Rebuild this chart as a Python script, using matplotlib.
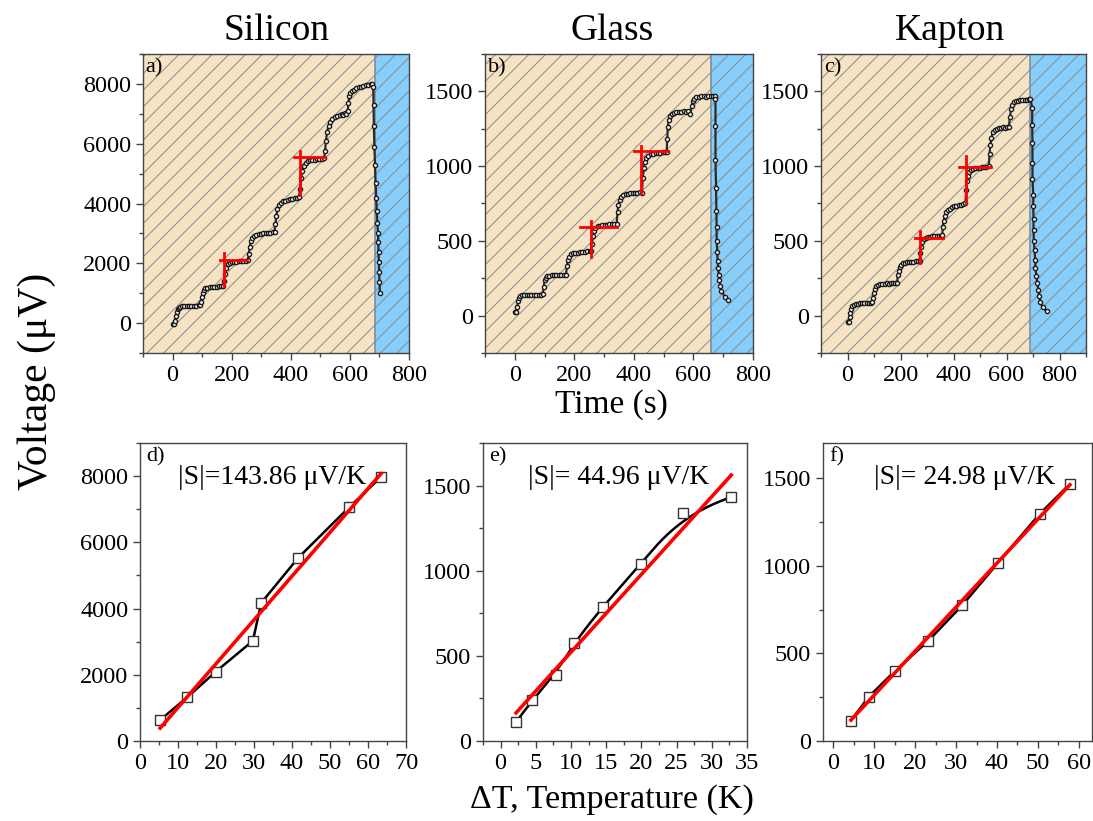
import numpy as np
import matplotlib
matplotlib.use("Agg")
import matplotlib.pyplot as plt
from matplotlib.ticker import MultipleLocator

plt.rcParams['font.family'] = ['Liberation Serif', 'DejaVu Serif']
plt.rcParams['mathtext.fontset'] = 'stix'
plt.rcParams['hatch.linewidth'] = 0.7

# ---------------- DATA ----------------
materials = ["Silicon", "Glass", "Kapton"]
top_labels = ["a)", "b)", "c)"]
bottom_labels = ["d)", "e)", "f)"]
seebeck_texts = ["|S|=143.86 \u03bcV/K", "|S|= 44.96 \u03bcV/K", "|S|= 24.98 \u03bcV/K"]

# Silicon time series (s, uV)
si_time = [0, 4, 8, 11, 14, 17, 21, 26, 32, 40, 48, 56, 64, 72, 80, 88, 93,
           96, 99, 102, 106, 111, 117, 125, 133, 141, 149, 157, 165, 172,
           175, 178, 182, 187, 193, 200, 208, 216, 224, 232, 240, 248, 255,
           258, 261, 265, 270, 276, 283, 291, 299, 307, 315, 323, 331, 339, 345,
           348, 351, 355, 360, 366, 373, 381, 389, 397, 405, 413, 421, 428,
           432, 435, 439, 444, 450, 457, 465, 473, 481, 489, 497, 505, 513,
           516, 519, 523, 528, 534, 541, 549, 557, 565, 573, 578, 583, 588, 592,
           595, 598, 602, 607, 614, 622, 630, 638, 646, 654, 662, 670, 676,
           679, 680, 681, 683, 685, 687, 689, 691, 693, 695, 696, 697, 698, 699, 700, 702]
si_volt = [-30, -20, 60, 250, 380, 460, 510, 540, 560, 570, 575, 580, 575, 585, 580, 590, 590,
           700, 880, 1010, 1100, 1160, 1190, 1200, 1210, 1215, 1220, 1230, 1225, 1240,
           1400, 1650, 1850, 1960, 2010, 2040, 2050, 2060, 2070, 2075, 2085, 2090, 2100,
           2300, 2550, 2730, 2850, 2920, 2960, 2980, 2990, 3000, 3010, 3020, 3030, 3040, 3060,
           3300, 3580, 3800, 3940, 4020, 4070, 4100, 4120, 4140, 4150, 4170, 4190, 4230,
           4500, 4850, 5100, 5260, 5350, 5410, 5440, 5460, 5470, 5480, 5490, 5500, 5520,
           5750, 6100, 6400, 6600, 6730, 6820, 6880, 6930, 6970, 7000, 6950, 7020, 7000, 7080,
           7350, 7600, 7700, 7760, 7800, 7850, 7880, 7900, 7920, 7950, 7960, 7990, 8000,
           7900, 7300, 6600, 5900, 5300, 4700, 4200, 3750, 3350, 3030, 2720, 2390, 2050, 1720, 1380, 990]

# Glass time series
gl_time = [0, 4, 8, 11, 14, 18, 24, 32, 40, 48, 56, 64, 72, 80, 88, 94,
           97, 100, 104, 109, 116, 124, 132, 140, 148, 156, 164, 172,
           175, 178, 182, 188, 195, 203, 211, 219, 227, 235, 243, 251, 256,
           259, 262, 266, 271, 278, 286, 294, 302, 310, 318, 326, 334, 342,
           345, 348, 352, 357, 364, 372, 380, 388, 396, 404, 412, 420, 427,
           430, 433, 437, 442, 449, 457, 465, 473, 481, 489, 497, 505, 510,
           512, 514, 517, 521, 527, 535, 543, 551, 559, 567, 575, 583, 590,
           594, 598, 603, 610, 618, 626, 634, 642, 650, 658, 666, 672,
           674, 674, 674, 676, 677, 678, 678, 680, 681, 683, 685, 687, 690, 694, 706, 715]
gl_volt = [25, 25, 60, 100, 120, 130, 135, 138, 138, 140, 138, 140, 140, 138, 140, 142,
           190, 235, 255, 265, 268, 270, 270, 272, 270, 272, 274, 272,
           330, 370, 395, 410, 418, 420, 422, 425, 425, 428, 430, 430, 432,
           480, 530, 565, 585, 598, 602, 605, 608, 608, 610, 612, 612, 615,
           690, 740, 775, 795, 808, 812, 815, 818, 820, 820, 822, 825, 822,
           920, 990, 1030, 1055, 1070, 1078, 1082, 1085, 1088, 1090, 1092, 1095, 1095,
           1180, 1260, 1310, 1335, 1350, 1358, 1362, 1365, 1360, 1368, 1365, 1370, 1350,
           1400, 1435, 1452, 1462, 1465, 1468, 1470, 1465, 1470, 1468, 1470, 1470,
           1451, 1268, 1040, 855, 703, 591, 502, 424, 368, 319, 275, 241, 196, 163, 125, 102]

# Kapton time series
ka_time = [0, 4, 8, 11, 14, 18, 24, 32, 40, 48, 56, 64, 72, 80, 88, 93,
           97, 100, 104, 109, 116, 124, 132, 140, 148, 156, 164, 172, 180, 187,
           190, 193, 197, 202, 209, 217, 225, 233, 241, 249, 257, 265, 272,
           275, 278, 283, 289, 296, 304, 312, 320, 328, 336, 344, 352, 357,
           360, 363, 367, 372, 379, 387, 395, 403, 411, 419, 427, 435, 445,
           448, 451, 455, 460, 467, 475, 483, 491, 499, 507, 515, 523, 533,
           536, 539, 543, 548, 555, 563, 571, 579, 587, 595, 603, 609,
           613, 617, 622, 628, 636, 644, 652, 660, 668, 676, 684, 690,
           697, 697, 698, 698, 698, 701, 701, 702, 702, 703, 706, 708, 709, 713, 716, 720, 723, 728, 736, 751]
ka_volt = [-45, -40, -10, 20, 45, 62, 72, 78, 80, 82, 85, 83, 85, 84, 86, 88,
           120, 150, 175, 195, 205, 210, 212, 214, 215, 212, 216, 215, 218, 220,
           270, 300, 325, 340, 350, 355, 358, 360, 362, 358, 364, 365, 368,
           420, 460, 490, 510, 520, 525, 528, 530, 532, 530, 535, 533, 536,
           590, 630, 665, 690, 705, 715, 725, 730, 735, 738, 742, 748, 755,
           840, 900, 935, 958, 972, 980, 985, 988, 990, 992, 992, 995, 998,
           1080, 1140, 1190, 1225, 1240, 1250, 1255, 1258, 1260, 1258, 1262, 1265,
           1330, 1380, 1410, 1430, 1435, 1438, 1440, 1440, 1442, 1445, 1448, 1452,
           1391, 1272, 1152, 1018, 915, 810, 732, 643, 576, 498, 437, 375, 319, 263, 219, 174, 129, 89, 58, 29]

# time where cooling (blue) region begins
cooling_start = [684, 660, 687]

# red guide crosses: vertical x, vertical y-range, horizontal y, horizontal x-range
si_cross_vx = [173, 430]; si_cross_vy = [(1227, 2343), (4296, 5746)]
si_cross_hy = [2097, 5557]; si_cross_hx = [(162, 253), (412, 515)]
gl_cross_vx = [256, 425]; gl_cross_vy = [(395, 630), (819, 1136)]
gl_cross_hy = [591, 1098]; gl_cross_hx = [(219, 343), (400, 513)]
ka_cross_vx = [275, 449]; ka_cross_vy = [(350, 569), (752, 1065)]
ka_cross_hy = [518, 996]; ka_cross_hx = [(256, 360), (420, 542)]

# Voltage vs Delta T
si_dT = [5.3, 12.4, 19.9, 29.7, 31.9, 41.6, 55.1, 63.4]
si_V = [633, 1317, 2090, 3025, 4171, 5528, 7065, 7970]
gl_dT = [2.19, 4.43, 7.81, 10.38, 14.48, 19.9, 25.95, 32.76]
gl_V = [111, 238, 390, 573, 788, 1038, 1336, 1432]
ka_dT = [4.33, 8.65, 15.1, 23.2, 31.5, 40.2, 50.4, 57.8]
ka_V = [116, 252, 400, 571, 774, 1015, 1295, 1466]

# ---------------- STYLE / LAYOUT ----------------
W, H = 1093, 821
fig = plt.figure(figsize=(W / 100, H / 100), dpi=100)

def frac(l, r, t, b):
    return [l / W, 1 - b / H, (r - l) / W, (b - t) / H]

top_pos = [frac(143, 409, 54, 353), frac(485, 753, 54, 353), frac(821, 1086, 54, 353)]
bot_pos = [frac(140, 406, 443, 741), frac(483, 747, 443, 741), frac(823, 1092, 443, 741)]

TICK_FS = 17.5
WHEAT = '#F5E3C4'
SKY = '#87CEFA'
HATCH = '#8a8a8a'


def style_axes(ax):
    for s in ax.spines.values():
        s.set_color('#444444')
        s.set_linewidth(1.0)
    ax.tick_params(which='both', direction='out', top=False, right=False,
                   labelsize=TICK_FS, colors='#444444', labelcolor='black')
    ax.tick_params(which='major', length=5, width=1)
    ax.tick_params(which='minor', length=3, width=1)


def bspline(px, py, k=3, num=300):
    px = np.asarray(px, float); py = np.asarray(py, float)
    n = len(px)
    knots = np.concatenate([np.zeros(k), np.linspace(0, 1, n - k + 1), np.ones(k)])
    t = np.linspace(0, 1 - 1e-9, num)
    B = np.zeros((num, len(knots) - 1))
    for i in range(len(knots) - 1):
        B[:, i] = ((t >= knots[i]) & (t < knots[i + 1])).astype(float)
    for p in range(1, k + 1):
        Bn = np.zeros((num, len(knots) - 1 - p))
        for i in range(len(knots) - 1 - p):
            d1 = knots[i + p] - knots[i]
            d2 = knots[i + p + 1] - knots[i + 1]
            term = np.zeros(num)
            if d1 > 0:
                term += (t - knots[i]) / d1 * B[:, i]
            if d2 > 0:
                term += (knots[i + p + 1] - t) / d2 * B[:, i + 1]
            Bn[:, i] = term
        B = Bn
    return B @ px, B @ py


top_series = [(si_time, si_volt), (gl_time, gl_volt), (ka_time, ka_volt)]
crosses = [(si_cross_vx, si_cross_vy, si_cross_hy, si_cross_hx),
           (gl_cross_vx, gl_cross_vy, gl_cross_hy, gl_cross_hx),
           (ka_cross_vx, ka_cross_vy, ka_cross_hy, ka_cross_hx)]
top_xlim = [(-100, 800), (-100, 800), (-100, 900)]
top_ylim = [(-1000, 9000), (-250, 1750), (-250, 1750)]
top_ymaj = [2000, 500, 500]

for i in range(3):
    ax = fig.add_axes(top_pos[i])
    x0, x1 = top_xlim[i]
    ax.axvspan(x0, cooling_start[i], facecolor=WHEAT, edgecolor=HATCH, hatch='//', linewidth=0, zorder=0)
    ax.axvspan(cooling_start[i], x1, facecolor=SKY, edgecolor=HATCH, hatch='//', linewidth=0, zorder=0)
    ax.axvline(cooling_start[i], color='#7a8ea0', lw=1.2, zorder=1)
    t, v = top_series[i]
    ax.plot(t, v, '-', color='#2a2a2a', lw=1.6, zorder=2)
    ax.plot(t, v, 'o', ms=3.0, mfc='white', mec='#1a1a1a', mew=1.0, zorder=3)
    vx, vy, hy, hx = crosses[i]
    for j in range(len(vx)):
        ax.plot([vx[j], vx[j]], vy[j], color='#ff0000', lw=2.0, zorder=4)
        ax.plot(hx[j], [hy[j], hy[j]], color='#ff0000', lw=2.0, zorder=4)
    ax.set_xlim(x0, x1)
    ax.set_ylim(*top_ylim[i])
    ax.xaxis.set_major_locator(MultipleLocator(200))
    ax.xaxis.set_minor_locator(MultipleLocator(100))
    ax.yaxis.set_major_locator(MultipleLocator(top_ymaj[i]))
    ax.yaxis.set_minor_locator(MultipleLocator(top_ymaj[i] / 2))
    style_axes(ax)
    ax.set_xticks([0, 200, 400, 600, 800])
    yt = [y for y in np.arange(0, top_ylim[i][1] + 1, top_ymaj[i]) if y <= top_ylim[i][1] - 1]
    ax.set_yticks(yt)
    ax.text(0.01, 0.985, top_labels[i], transform=ax.transAxes, ha='left', va='top', fontsize=16, zorder=5)

bot_series = [(si_dT, si_V), (gl_dT, gl_V), (ka_dT, ka_V)]
bot_xlim = [(0, 70), (-2.5, 35), (-2.5, 63.2)]
bot_ylim = [(0, 9000), (0, 1750), (0, 1700)]
bot_xmaj = [10, 5, 10]
bot_ymaj = [2000, 500, 500]
bot_text_x = [0.496, 0.515, 0.528]

for i in range(3):
    ax = fig.add_axes(bot_pos[i])
    x, y = bot_series[i]
    x = np.asarray(x); y = np.asarray(y)
    if i == 1:
        cx, cy = bspline(x, y)
        ax.plot(cx, cy, color='black', lw=1.8, zorder=2)
    else:
        ax.plot(x, y, color='black', lw=1.8, zorder=2)
    ax.plot(x, y, 's', ms=7, mfc='white', mec='#333333', mew=1.0, zorder=3)
    slope, icpt = np.polyfit(x, y, 1)
    fx = np.array([x.min(), x.max()])
    ax.plot(fx, slope * fx + icpt, color='#ff0000', lw=2.6, zorder=4)
    ax.set_xlim(*bot_xlim[i])
    ax.set_ylim(*bot_ylim[i])
    ax.xaxis.set_major_locator(MultipleLocator(bot_xmaj[i]))
    ax.xaxis.set_minor_locator(MultipleLocator(bot_xmaj[i] / 2))
    ax.yaxis.set_major_locator(MultipleLocator(bot_ymaj[i]))
    ax.yaxis.set_minor_locator(MultipleLocator(bot_ymaj[i] / 2))
    style_axes(ax)
    xt = [v for v in np.arange(0, bot_xlim[i][1] + 0.01, bot_xmaj[i])]
    ax.set_xticks(xt)
    ax.set_xticklabels([f"{v:g}" for v in xt])
    ax.set_xlim(*bot_xlim[i])
    ax.text(0.025, 0.985, bottom_labels[i], transform=ax.transAxes, ha='left', va='top', fontsize=16, zorder=5)
    ax.text(bot_text_x[i], 0.885, seebeck_texts[i], transform=ax.transAxes, ha='center', va='center',
            fontsize=20, zorder=5)

# titles and axis labels
title_x = [276, 612, 950]
for i in range(3):
    fig.text(title_x[i] / W, 1 - 31 / H, materials[i], ha='center', va='center', fontsize=27)

fig.text(37 / W, 1 - 381 / H, "Voltage (\u03bcV)", rotation=90, ha='center', va='center', fontsize=30)
fig.text(611 / W, 1 - 405 / H, "Time (s)", ha='center', va='center', fontsize=24)
fig.text(612 / W, 1 - 800 / H, "\u0394T, Temperature (K)", ha='center', va='center', fontsize=24.5)

fig.savefig("out.png", dpi=100)
